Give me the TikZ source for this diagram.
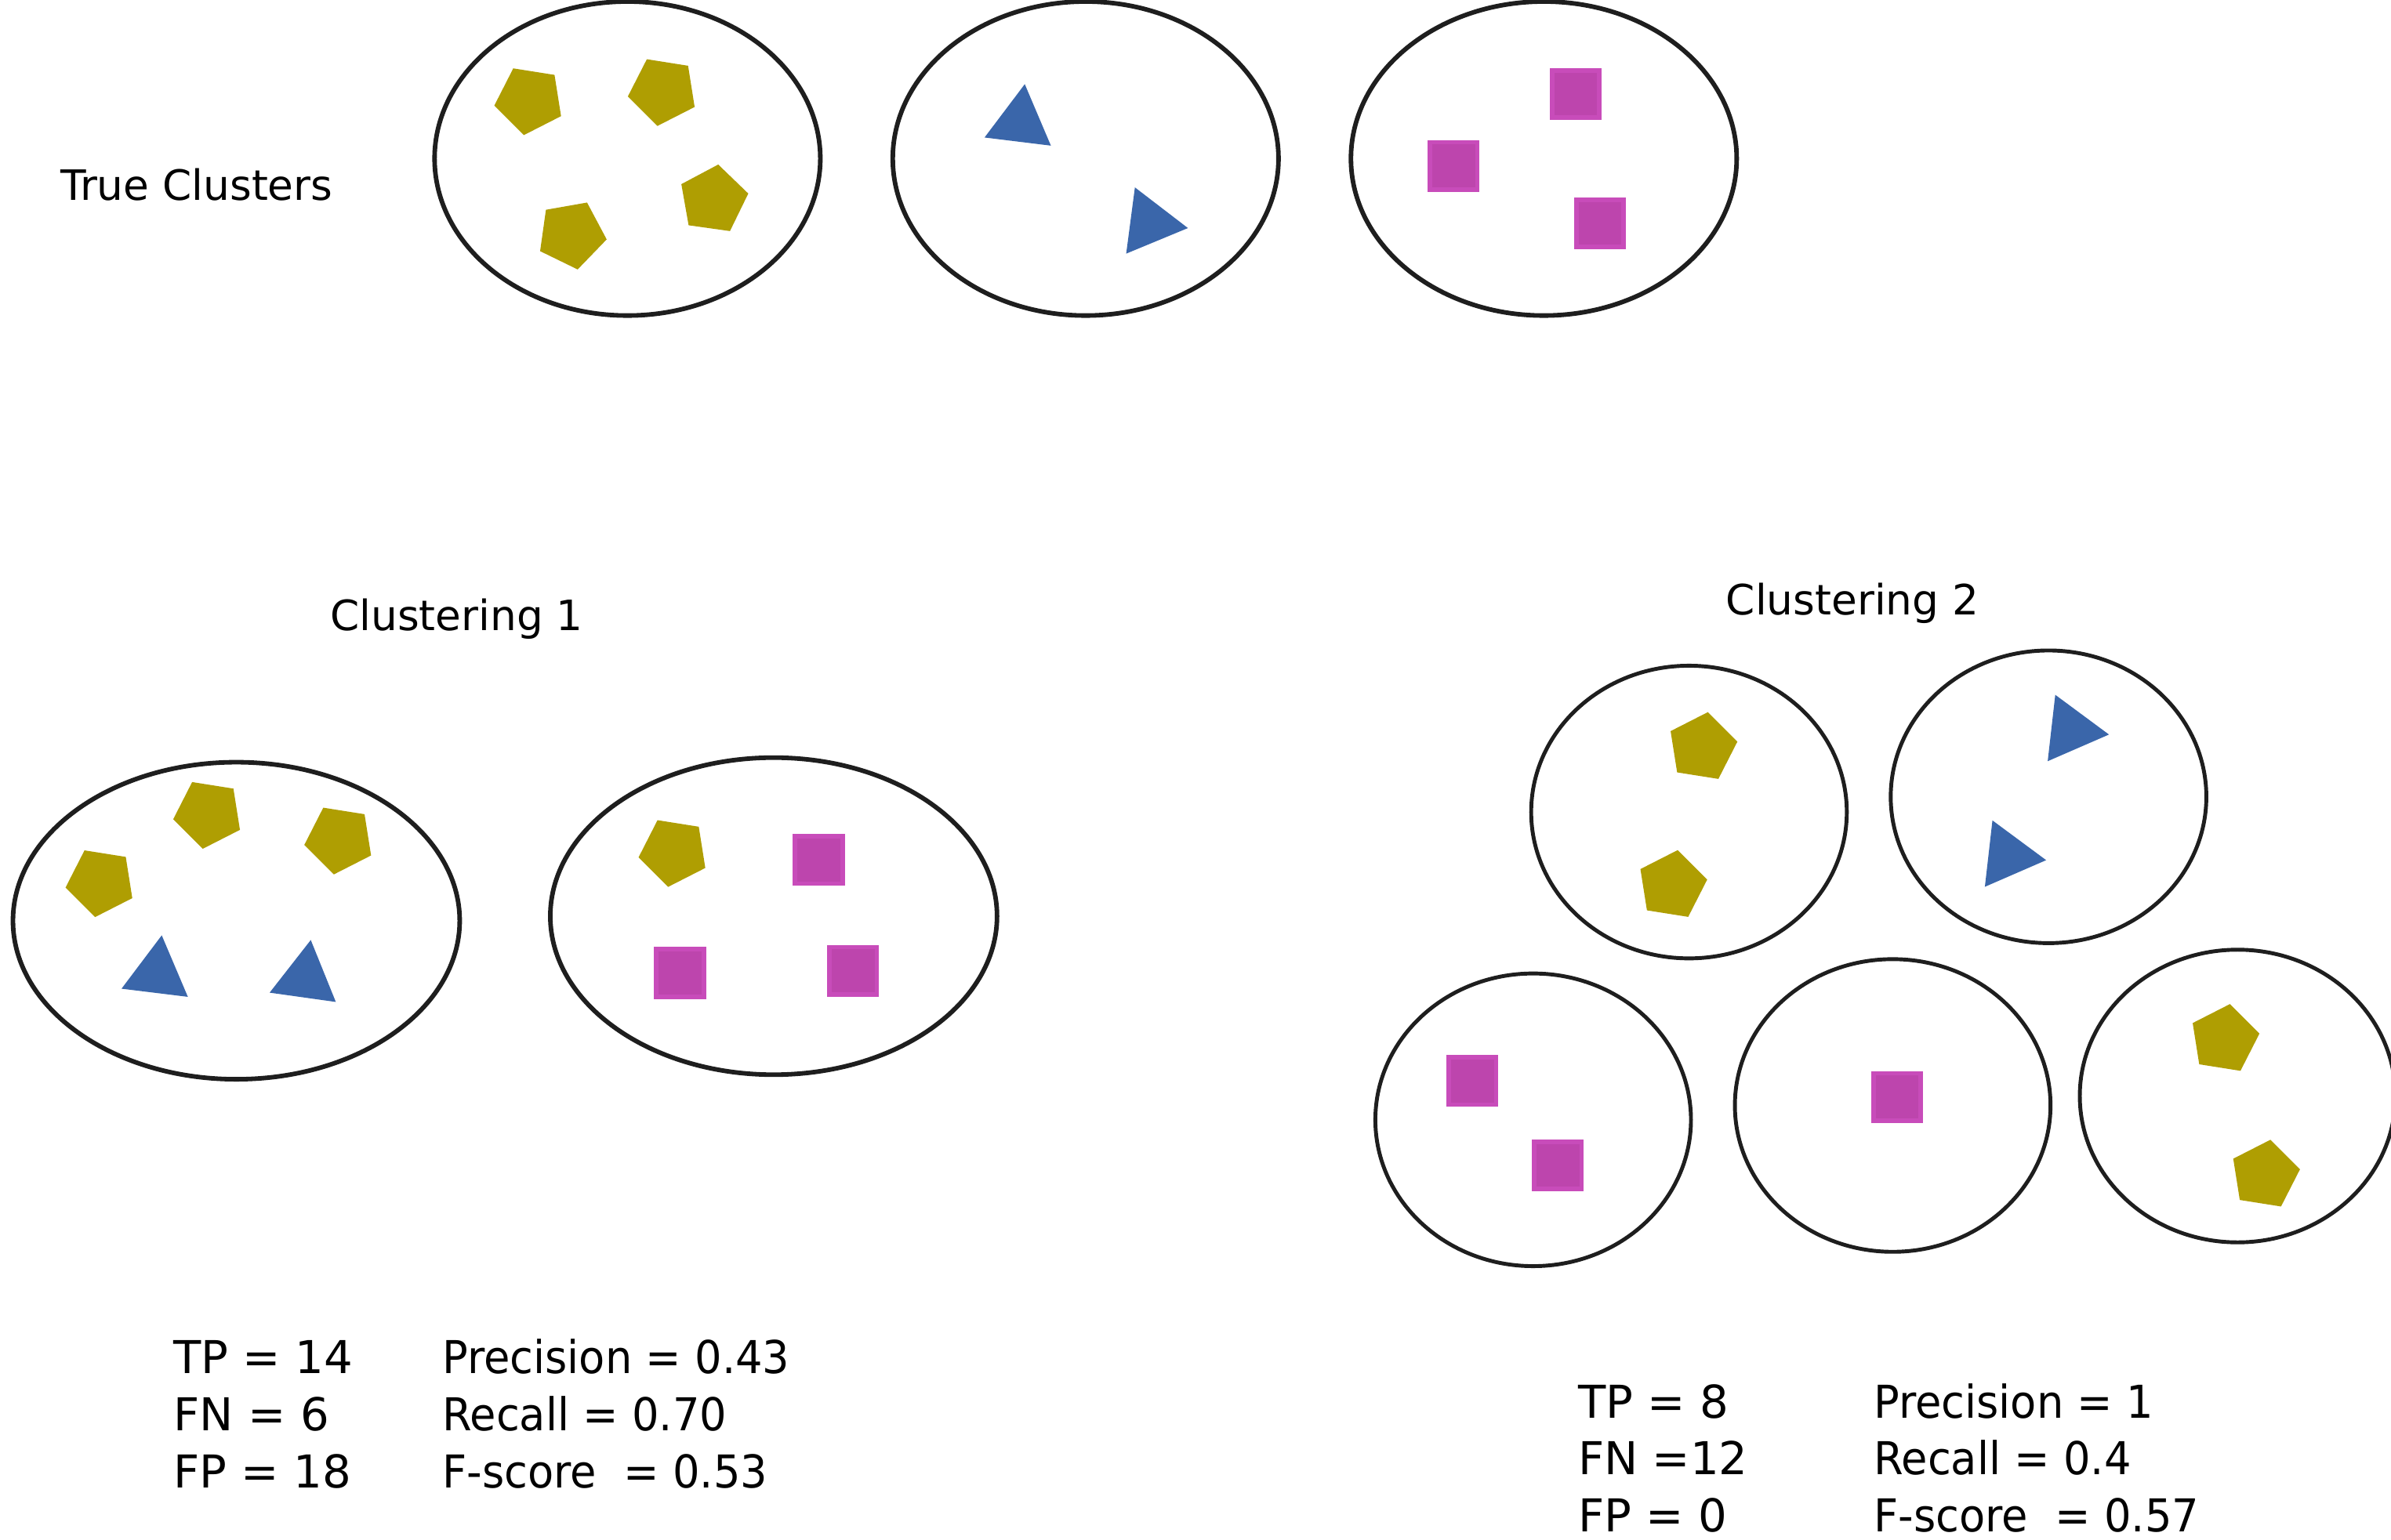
\documentclass[tikz,border=0pt]{standalone}
\usepackage{fontspec}
\setmainfont{DejaVu Sans}
\newfontfamily\narrowfont{DejaVu Sans}[FakeStretch=0.94]
\usetikzlibrary{shapes.geometric,positioning}

\definecolor{ringcol}{RGB}{30,30,30}
\definecolor{pentcol}{RGB}{175,158,2}
\definecolor{tricol}{RGB}{58,102,170}
\definecolor{sqcol}{RGB}{189,69,173}
\definecolor{sqedge}{RGB}{200,76,186}

\begin{document}
\begin{tikzpicture}[x=0.1mm, y=-0.1mm, node distance=30.05mm,
    clus/.style = {draw=ringcol, line width=0.85pt, ellipse, inner sep=0pt},
    pent/.style = {regular polygon, regular polygon sides=5, fill=pentcol, minimum size=4.66mm, inner sep=0pt},
    tri/.style = {regular polygon, regular polygon sides=3, fill=tricol, minimum size=5.06mm, inner sep=0pt},
    sq/.style = {fill=sqcol, draw=sqedge, line width=0.85pt, minimum size=3.1mm, inner sep=0pt},
    head/.style = {font=\fontsize{7.8}{9}\selectfont, inner sep=0pt},
    stat/.style = {font=\fontsize{8.45}{10}\selectfont, anchor=base west, inner sep=0pt},
    score/.style = {stat, font=\fontsize{8.45}{10}\narrowfont}]
    \useasboundingbox (0,0) rectangle (1568.1,1009.8);
    % true clusters
    \node[head, anchor=base west] (h0) at (39,131.5) {True Clusters};
    \node[clus, minimum width=25.3mm, minimum height=20.6mm] (t1) at (411.5,104) {};
    \node[clus, minimum width=25.3mm, minimum height=20.6mm] (t2) [right of=t1] {};
    \node[clus, minimum width=25.3mm, minimum height=20.6mm] (t3) [right of=t2] {};
    % clustering 1
    \node[head, anchor=base] (h1) at (299.5,413.4) {Clustering 1};
    \node[clus, minimum width=29.3mm, minimum height=20.8mm] (c1) at (155,604) {};
    \node[clus, minimum width=29.3mm, minimum height=20.8mm] (c2) at (507.4,601) {};
    % clustering 2
    \node[head, anchor=base] (h2) at (1215,403.1) {Clustering 2};
    \node[clus, line width=0.72pt, minimum width=20.7mm, minimum height=19.2mm] (d1) at (1107.7,532.7) {};
    \node[clus, line width=0.72pt, minimum width=20.7mm, minimum height=19.2mm] (d2) at (1343.5,522.7) {};
    \node[clus, line width=0.72pt, minimum width=20.7mm, minimum height=19.2mm] (d3) at (1005.5,734.6) {};
    \node[clus, line width=0.72pt, minimum width=20.7mm, minimum height=19.2mm] (d4) at (1241.3,725.2) {};
    \node[clus, line width=0.72pt, minimum width=20.7mm, minimum height=19.2mm] (d5) at (1467.5,719) {};
    % points
    \foreach \x/\y/\r [count=\i] in {347.2/65.6/27, 434.8/59.6/27, 467.8/131/-8, 374.8/153.8/-26,
        136.6/533.8/27, 222.6/550.6/27, 66/578.6/27, 441.8/558.8/27,
        1116.4/490.2/-9, 1096.6/580.7/-9, 1458.8/681.7/-9, 1485.4/770.7/-9}
        \node[pent, rotate=\r] (p\i) at (\x,\y) {};
    \foreach \x/\y/\r [count=\i] in {669/80.3/-7, 754/146.3/22.5, 103/638.7/-7, 200.3/641.7/-8,
        1358/479/23.5, 1316.8/561.4/23.5}
        \node[tri, rotate=\r] (q\i) at (\x,\y) {};
    \foreach \x/\y [count=\i] in {1033.5/61.6, 953.4/108.8, 1049.4/146.5, 537/564.2, 446/638.3,
        559.6/636.8, 965.7/709.2, 1021.8/764.5, 1244.3/719.6}
        \node[sq] (s\i) at (\x,\y) {};
    % scores
    \node[stat] (l1) at (113.2,901.1) {TP = 14};
    \node[stat] (l2) at (113.2,938.3) {FN = 6};
    \node[stat] (l3) at (113.2,976) {FP = 18};
    \node[score] (r1) at (289.4,901.1) {Precision = 0.43};
    \node[score] (r2) at (289.4,938.3) {Recall = 0.70};
    \node[score] (r3) at (289.4,976) {F-score\ \ = 0.53};
    \node[stat] (l4) at (1034.3,930.2) {TP = 8};
    \node[stat] (l5) at (1034.3,967.5) {FN =12};
    \node[stat] (l6) at (1034.3,1004.6) {FP = 0};
    \node[score] (r4) at (1228.2,930.2) {Precision = 1};
    \node[score] (r5) at (1228.2,967.5) {Recall = 0.4};
    \node[score] (r6) at (1228.2,1004.6) {F-score\ \ = 0.57};
\end{tikzpicture}
\end{document}
